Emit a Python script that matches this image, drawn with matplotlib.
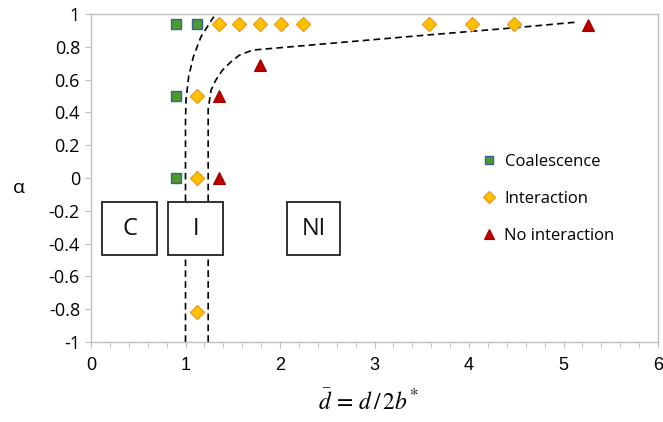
import matplotlib
matplotlib.use("Agg")
import matplotlib.pyplot as plt
from matplotlib.patches import Rectangle
from matplotlib.ticker import MultipleLocator

# ---- data ----
coal_x = [0.90, 0.90, 0.90, 1.12]
coal_y = [0.94, 0.50, 0.00, 0.94]

inter_x = [1.12, 1.12, 1.12, 1.35, 1.57, 1.79, 2.01, 2.24, 3.58, 4.03, 4.48]
inter_y = [0.50, 0.00, -0.82, 0.94, 0.94, 0.94, 0.94, 0.94, 0.94, 0.94, 0.94]

noint_x = [1.35, 1.35, 1.79, 5.26]
noint_y = [0.50, 0.00, 0.69, 0.935]

# regime boundaries (hand-drawn dashed curves)
bound1_x = [1.00, 1.00, 1.005, 1.033, 1.083, 1.164, 1.30]
bound1_y = [-1.0, 0.35, 0.474, 0.617, 0.739, 0.862, 0.984]
bound2_x = [1.24, 1.24, 1.27, 1.32, 1.39, 1.48, 1.57, 1.71, 3.58, 4.48, 5.13]
bound2_y = [-1.0, 0.42, 0.535, 0.596, 0.657, 0.708, 0.749, 0.78, 0.873, 0.916, 0.95]

box_labels = ["C", "I", "NI"]
box_x0 = [0.12, 0.82, 2.07]
box_x1 = [0.70, 1.40, 2.64]
box_y0 = -0.472
box_y1 = -0.144

series_labels = ["Coalescence", "Interaction", "No interaction"]
x_ticks = [0, 1, 2, 3, 4, 5, 6]
y_ticks = [-1, -0.8, -0.6, -0.4, -0.2, 0, 0.2, 0.4, 0.6, 0.8, 1]
y_tick_labels = ["-1", "-0.8", "-0.6", "-0.4", "-0.2", "0", "0.2", "0.4", "0.6", "0.8", "1"]

plt.rcParams["mathtext.fontset"] = "stix"

W, H = 663, 422
fig = plt.figure(figsize=(W / 100, H / 100), dpi=100)
ax = fig.add_axes([91 / W, (H - 342) / H, (658 - 91) / W, (342 - 14) / H])

ax.set_xlim(0, 6)
ax.set_ylim(-1, 1)

# boundaries
for bx, by in [(bound1_x, bound1_y), (bound2_x, bound2_y)]:
    ax.plot(bx, by, color="black", lw=1.2, ls=(0, (4, 2.5)), zorder=2)

# boxes
for lab, x0, x1 in zip(box_labels, box_x0, box_x1):
    ax.add_patch(Rectangle((x0, box_y0), x1 - x0, box_y1 - box_y0,
                           facecolor="white", edgecolor="#222222", lw=1.3, zorder=3))
    ax.text((x0 + x1) / 2, (box_y0 + box_y1) / 2, lab, ha="center", va="center",
            fontsize=17, family="Open Sans", color="#111111", zorder=4)

# markers
ax.plot(coal_x, coal_y, ls="none", marker="s", ms=7, mfc="#4E9A28", mec="#3A5FA0",
        mew=1.0, label=series_labels[0], zorder=5)
ax.plot(inter_x, inter_y, ls="none", marker="D", ms=7.5, mfc="#FFC000", mec="#E8A020",
        mew=1.0, label=series_labels[1], zorder=5)
ax.plot(noint_x, noint_y, ls="none", marker="^", ms=8, mfc="#C00000", mec="#A00000",
        mew=0.8, label=series_labels[2], zorder=5)

# axes styling
for sp in ax.spines.values():
    sp.set_color("#BFBFBF")
    sp.set_linewidth(1.0)
ax.set_xticks(x_ticks)
ax.xaxis.set_minor_locator(MultipleLocator(0.2))
ax.set_yticks(y_ticks)
ax.set_yticklabels(y_tick_labels)
ax.tick_params(axis="both", which="both", direction="out", color="#BFBFBF")
ax.tick_params(axis="x", which="major", length=4, pad=7, labelsize=13)
ax.tick_params(axis="x", which="minor", length=4)
ax.tick_params(axis="y", which="major", length=4, pad=4, labelsize=13)
for t in ax.get_xticklabels():
    t.set_family("Liberation Sans")
for t in ax.get_yticklabels():
    t.set_family("Open Sans")

ax.set_xlabel(r"$\bar{d}\, =\, d\,/\,2b^{*}$", fontsize=17)
ax.xaxis.set_label_coords((368 - 91) / (658 - 91), -(389 - 342) / (342 - 14))
fig.text(19 / W, 1 - 188 / H, "α", fontsize=14, family="Open Sans", ha="center", va="center")

leg = ax.legend(loc="upper left", bbox_to_anchor=((467 - 91) / (658 - 91), 1 - (139 - 14) / (342 - 14)),
                frameon=False, prop={"family": "Open Sans", "size": 12},
                handlelength=0.8, handletextpad=0.55, labelspacing=1.25, markerscale=0.85)

fig.savefig("out.png", dpi=100)
